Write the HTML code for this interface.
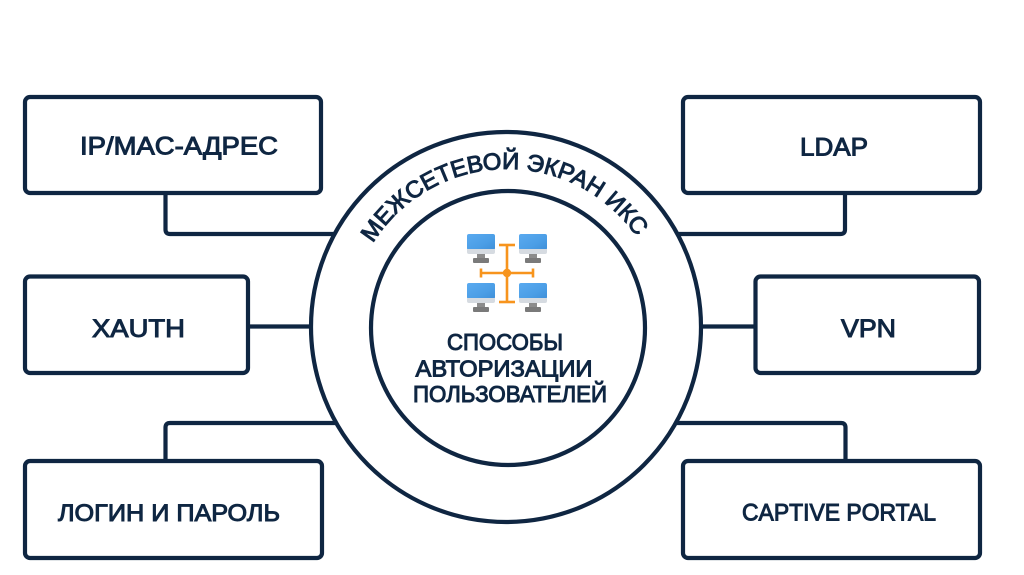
<!DOCTYPE html>
<html>
<head>
<meta charset="utf-8">
<style>
  html, body { margin: 0; padding: 0; background: #ffffff; }
  body { width: 1024px; height: 575px; overflow: hidden; }
  svg { display: block; }
  .lbl { font-family: "Liberation Sans", "DejaVu Sans", sans-serif; font-weight: normal; fill: #0f2642; stroke: #0f2642; stroke-width: 1.0; }
</style>
</head>
<body>
<svg width="1024" height="575" viewBox="0 0 1024 575" xmlns="http://www.w3.org/2000/svg">
  <defs>
    <path id="arcPath" d="M 507 485 A 158 158 0 1 1 507 169 A 158 158 0 1 1 507 485"/>
    <linearGradient id="scr" x1="0" y1="0" x2="1" y2="1">
      <stop offset="0" stop-color="#5aaaf0"/>
      <stop offset="0.6" stop-color="#4b9ee6"/>
      <stop offset="1" stop-color="#3f8fd8"/>
    </linearGradient>
    <g id="mon">
      <rect x="0" y="0" width="28" height="16" rx="2" fill="url(#scr)"/>
      <path d="M0 15 H28 V18 a2 2 0 0 1 -2 2 H2 a2 2 0 0 1 -2 -2 Z" fill="#d6dbe1"/>
      <rect x="10" y="20" width="8" height="5" fill="#8c8c8c"/>
      <rect x="6" y="24" width="16" height="5" rx="1" fill="#7a7a7a"/>
    </g>
  </defs>

  <g fill="none" stroke="#0f2642" stroke-width="4.2" stroke-linejoin="round" stroke-linecap="round">
    <!-- boxes -->
    <rect x="25" y="97" width="296" height="96" rx="5"/>
    <rect x="25" y="276.5" width="223" height="96.5" rx="5"/>
    <rect x="25" y="461" width="297" height="97" rx="5"/>
    <rect x="683" y="97" width="297" height="96" rx="5"/>
    <rect x="755.5" y="276.5" width="223.5" height="96.5" rx="5"/>
    <rect x="683" y="461" width="297" height="97" rx="5"/>

    <!-- connectors -->
    <path d="M165.5 195 V229.5 Q165.5 234 170 234 H337"/>
    <path d="M250 326.5 H311"/>
    <path d="M165.5 459 V427.5 Q165.5 423 170 423 H337"/>
    <path d="M845 195 V229.5 Q845 234 840.5 234 H676"/>
    <path d="M701 326.5 H755"/>
    <path d="M845.5 459 V427.5 Q845.5 423 841 423 H676"/>

    <!-- circles -->
    <circle cx="506" cy="327" r="195" fill="#ffffff"/>
    <circle cx="508" cy="328" r="137"/>
  </g>

  <!-- arc text -->
  <text class="lbl" font-size="23.5" textLength="312" lengthAdjust="spacingAndGlyphs">
    <textPath href="#arcPath" startOffset="49.6%" text-anchor="middle">МЕЖСЕТЕВОЙ ЭКРАН ИКС</textPath>
  </text>

  <!-- network icon -->
  <g>
    <use href="#mon" x="467" y="234"/>
    <use href="#mon" x="519" y="234"/>
    <use href="#mon" x="467" y="283"/>
    <use href="#mon" x="519" y="283"/>
    <g stroke="#f7941d" stroke-width="2.6" fill="none" stroke-linecap="butt">
      <path d="M507 245 V302"/>
      <path d="M499 245 H515"/>
      <path d="M499 302 H515"/>
      <path d="M481 273 H533"/>
      <path d="M481 268.5 V277.5"/>
      <path d="M533 268.5 V277.5"/>
    </g>
    <circle cx="507" cy="273" r="4.2" fill="#f7941d"/>
  </g>

  <!-- center text -->
  <text class="lbl" font-size="23" x="505" y="350" text-anchor="middle" textLength="116" lengthAdjust="spacingAndGlyphs">СПОСОБЫ</text>
  <text class="lbl" font-size="23" x="504" y="376.5" text-anchor="middle" textLength="177" lengthAdjust="spacingAndGlyphs">АВТОРИЗАЦИИ</text>
  <text class="lbl" font-size="23" x="510" y="402" text-anchor="middle" textLength="194" lengthAdjust="spacingAndGlyphs">ПОЛЬЗОВАТЕЛЕЙ</text>

  <!-- box labels -->
  <text class="lbl" font-size="25" x="80" y="154.5" textLength="198" lengthAdjust="spacingAndGlyphs">IP/MAC-АДРЕС</text>
  <text class="lbl" font-size="25" x="92" y="337" textLength="93" lengthAdjust="spacingAndGlyphs">XAUTH</text>
  <text class="lbl" font-size="24" x="58" y="521" textLength="222" lengthAdjust="spacingAndGlyphs">ЛОГИН И ПАРОЛЬ</text>
  <text class="lbl" font-size="25" x="800" y="155.5" textLength="68" lengthAdjust="spacingAndGlyphs">LDAP</text>
  <text class="lbl" font-size="25" x="841" y="337" textLength="55" lengthAdjust="spacingAndGlyphs">VPN</text>
  <text class="lbl" font-size="24" x="742" y="520.5" textLength="194" lengthAdjust="spacingAndGlyphs">CAPTIVE PORTAL</text>
</svg>
</body>
</html>
